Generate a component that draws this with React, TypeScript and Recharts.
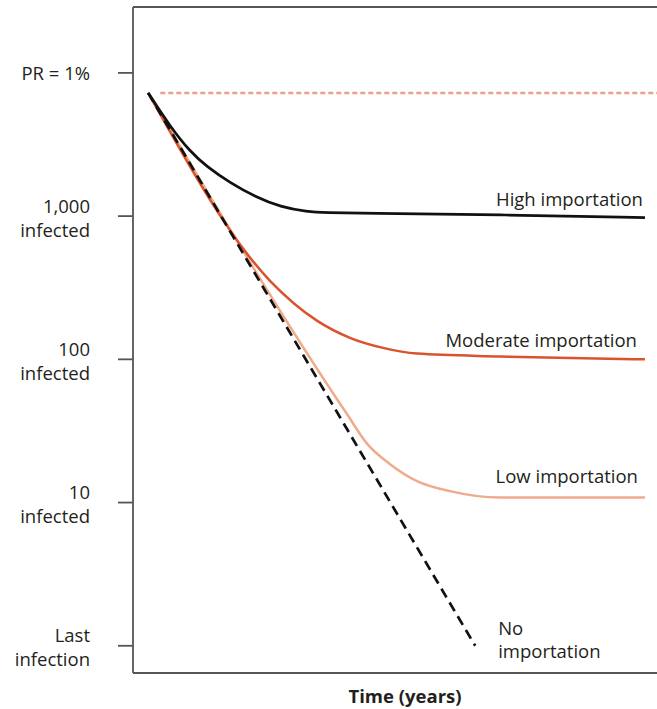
import React from 'react';
import { LineChart, Line, XAxis, YAxis, ReferenceLine } from 'recharts';

// y values are log10(infected): 0 = last infection, 4 = PR 1%
const yTicks = [0, 1, 2, 3, 4];
const yTickLabels = [['Last', 'infection'], ['10', 'infected'], ['100', 'infected'], ['1,000', 'infected'], ['PR = 1%']];

const prX = [5.2, 100];
const prY = [3.86, 3.86];

const noneX = [2.9, 65.3];
const noneY = [3.86, 0.0];

const highX = [2.9, 7.1, 10.9, 14.1, 18.5, 23.7, 28.1, 33.2, 37.0, 43.3, 70, 97.7];
const highY = [3.86, 3.625, 3.45, 3.345, 3.233, 3.128, 3.065, 3.03, 3.023, 3.02, 3.01, 2.99];

const modX = [2.9, 26.1, 35.1, 41.4, 47.7, 54.2, 70.0, 97.7];
const modY = [3.86, 2.55, 2.27, 2.15, 2.08, 2.04, 2.02, 2.0];

const lowX = [2.9, 40.8, 44.7, 49.0, 54.2, 60.5, 70.0, 97.7];
const lowY = [3.86, 1.62, 1.41, 1.27, 1.15, 1.08, 1.035, 1.035];

const toRows = (xs: number[], ys: number[]) => xs.map((x, i) => ({ x, y: ys[i] }));

const FONT = '"Open Sans", sans-serif';
const FS = 18.5;
const TEXT = '#231f20';
const AXIS = '#555';
const Y_MIN = -0.19;
const Y_MAX = 4.46;

const YTick = (props: any) => {
  const { x, y, payload } = props;
  const idx = yTicks.indexOf(payload.value);
  const lines = yTickLabels[idx] || [];
  if (lines.length === 1) {
    return (
      <text x={x} y={y} textAnchor="end" dominantBaseline="central" fontSize={FS} fill={TEXT} fontFamily={FONT}>
        {lines[0]}
      </text>
    );
  }
  return (
    <g>
      <text x={x} y={y - 11} textAnchor="end" dominantBaseline="central" fontSize={FS} fill={TEXT} fontFamily={FONT}>
        {lines[0]}
      </text>
      <text x={x} y={y + 13} textAnchor="end" dominantBaseline="central" fontSize={FS} fill={TEXT} fontFamily={FONT}>
        {lines[1]}
      </text>
    </g>
  );
};

const endLabel = (text: string, dy: number, lastIndex: number, dx = 0) => (props: any) => {
  const { x, y, index } = props;
  if (index !== lastIndex) return null;
  return (
    <text x={x + dx} y={y + dy} textAnchor="end" dominantBaseline="central" fontSize={FS} fill={TEXT} fontFamily={FONT}>
      {text}
    </text>
  );
};

const noneLabel = (props: any) => {
  const { x, y, index } = props;
  if (index !== noneX.length - 1) return null;
  return (
    <g>
      <text x={x + 23} y={y - 18} dominantBaseline="central" fontSize={FS} fill={TEXT} fontFamily={FONT}>No</text>
      <text x={x + 23} y={y + 5} dominantBaseline="central" fontSize={FS} fill={TEXT} fontFamily={FONT}>importation</text>
    </g>
  );
};

export default function App() {
  return (
    <div style={{ width: 657, height: 709, background: '#fff' }}>
      <style>{`body{margin:0}`}</style>
      <LineChart width={657} height={709} margin={{ top: 7, right: 0, left: 0, bottom: 0 }}>
        <XAxis
          type="number"
          dataKey="x"
          domain={[0, 100]}
          allowDataOverflow
          height={36}
          tick={false}
          tickLine={false}
          axisLine={{ stroke: AXIS, strokeWidth: 1.8 }}
          label={{ value: 'Time (years)', position: 'insideBottom', offset: 6, dx: 10, fontSize: FS, fontWeight: 'bold', fill: TEXT, fontFamily: FONT }}
        />
        <YAxis
          type="number"
          dataKey="y"
          domain={[Y_MIN, Y_MAX]}
          ticks={yTicks}
          width={133}
          tickSize={15}
          tickMargin={28}
          tick={<YTick />}
          tickLine={{ stroke: AXIS, strokeWidth: 1.8 }}
          axisLine={{ stroke: AXIS, strokeWidth: 1.8 }}
          allowDataOverflow
        />
        <ReferenceLine y={Y_MAX} stroke={AXIS} strokeWidth={1.8} />
        <Line data={toRows(prX, prY)} dataKey="y" stroke="#eba285" strokeWidth={2.5} strokeDasharray="5 3" dot={false} isAnimationActive={false} />
        <Line data={toRows(lowX, lowY)} dataKey="y" type="monotone" stroke="#efab8d" strokeWidth={2.5} dot={false} isAnimationActive={false} label={endLabel('Low importation', -22, lowX.length - 1, -7)} />
        <Line data={toRows(modX, modY)} dataKey="y" type="monotone" stroke="#d9532c" strokeWidth={2.5} dot={false} isAnimationActive={false} label={endLabel('Moderate importation', -20, modX.length - 1, -8)} />
        <Line data={toRows(highX, highY)} dataKey="y" type="basis" stroke="#111" strokeWidth={2.7} dot={false} isAnimationActive={false} label={endLabel('High importation', -19, highX.length - 1, -2)} />
        <Line data={toRows(noneX, noneY)} dataKey="y" stroke="#111" strokeWidth={2.7} strokeDasharray="10 6" dot={false} isAnimationActive={false} label={noneLabel} />
      </LineChart>
    </div>
  );
}
